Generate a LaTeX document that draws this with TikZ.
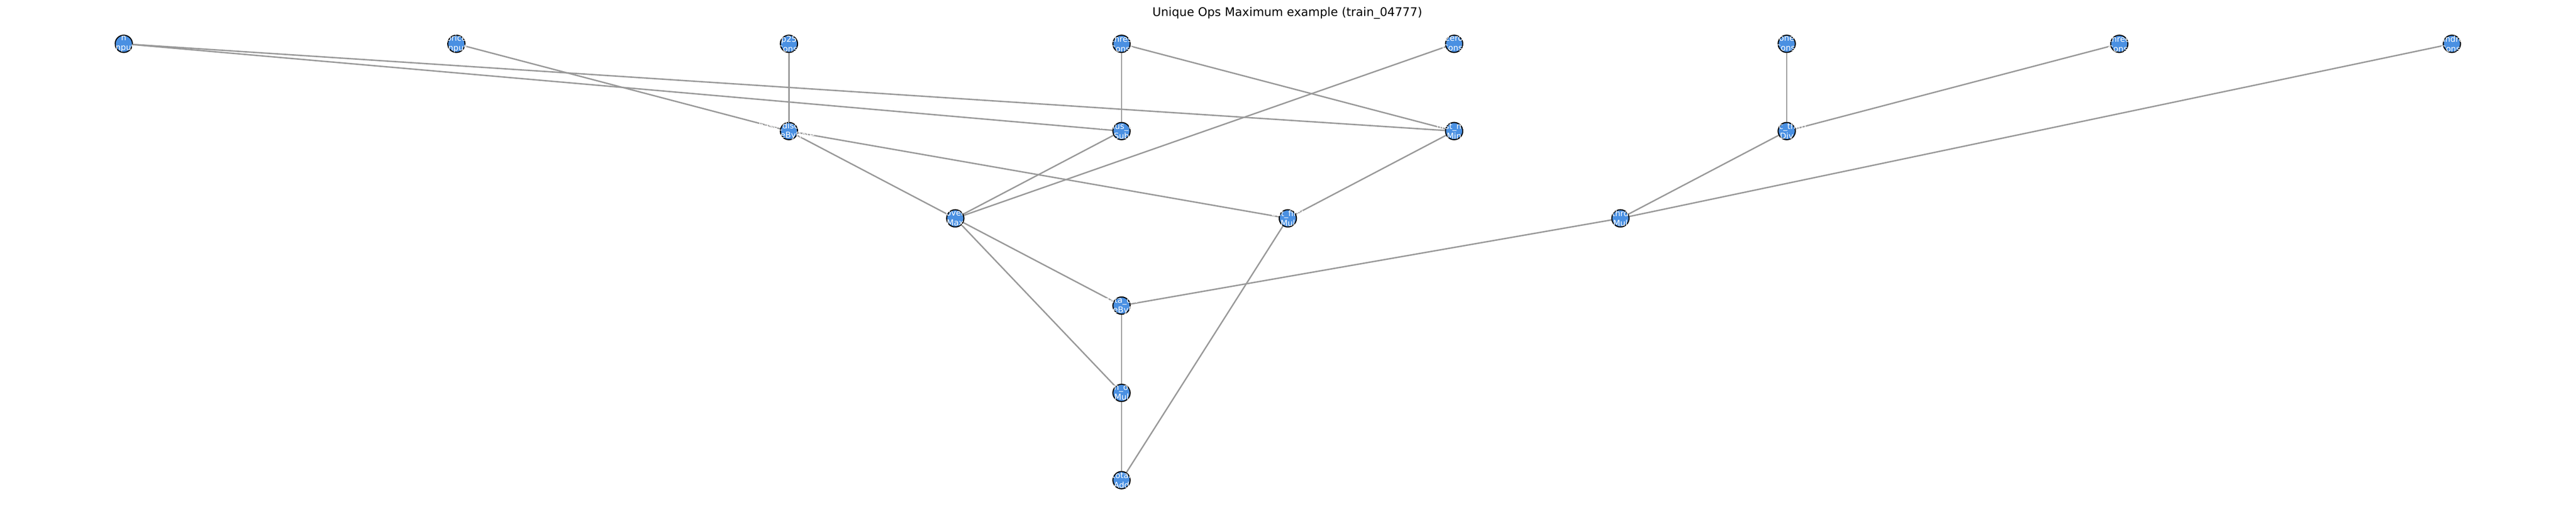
\documentclass[tikz,border=0pt]{standalone}
\usepackage{fontspec}
\setmainfont{DejaVu Sans}
\usetikzlibrary{backgrounds}

\definecolor{opblue}{RGB}{74,144,226}
\definecolor{edgegray}{RGB}{153,153,153}

\begin{document}
\begin{tikzpicture}[
        opnode/.style={circle, draw=black, line width=0.85pt, fill=opblue,
            minimum size=0.48cm, inner sep=0pt, label={[opname]center:#1}},
        opname/.style={text=white, align=center, inner sep=0pt,
            font=\fontsize{6.5}{7.7}\selectfont},
        link/.style={draw=edgegray, line width=1.1pt}
    ]
        % Шаг сетки
        \def\dx{9.27}
        \def\dy{2.43}

        % Поля рисунка
        \useasboundingbox (0,0) rectangle (71.8,-14.17);

        % Заголовок
        \node[font=\fontsize{9.4}{11}\selectfont] (title) at (35.88,-0.36)
            {Unique Ops Maximum example (train\_04777)};

        % Узлы: имя/столбец/ряд/подпись
        \foreach \name/\col/\row/\txt in {
            n1/0/0/{n\\Input}, n2/1/0/{price\\Input}, n3/2/0/{p25\\Const},
            n4/3/0/{thres\\Const}, n5/4/0/{zero\\Const}, n6/5/0/{one\\Const},
            n7/6/0/{three\\Const}, n8/7/0/{hundred\\Const},
            m1/2/1/{base\_disc\_rate\\ScaleByRate}, m2/3/1/{minus\_one\\Sub},
            m3/4/1/{first\_min\\Min}, m4/5/1/{disc\_third\\Div},
            k1/2.5/2/{over\\Max}, k2/3.5/2/{cut\_first\\Mul}, k3/4.5/2/{thrd\\Mul},
            r4/3/3/{data\_div\\ScaleByRate}, r5/3/4/{sum\_over\\Mul},
            r6/3/5/{total\\Add}}
        {
            \node[opnode={\txt}] (\name) at ({3.45+\col*\dx},{-1.22-\row*\dy}) {};
        }

        % Рёбра
        \begin{pgfonlayer}{background}
            \foreach \a/\b in {
                n1/m2, n1/m3, n2/m1, n3/m1, n4/m2, n4/m3, n5/k1,
                n6/m4, n7/m4, n8/k3, m1/k1, m1/k2, m2/k1, m3/k2,
                m4/k3, k1/r4, k1/r5, k3/r4, r4/r5, r5/r6, k2/r6}
            {
                \draw[link] (\a) -- (\b);
            }
        \end{pgfonlayer}
    \end{tikzpicture}
\end{document}
